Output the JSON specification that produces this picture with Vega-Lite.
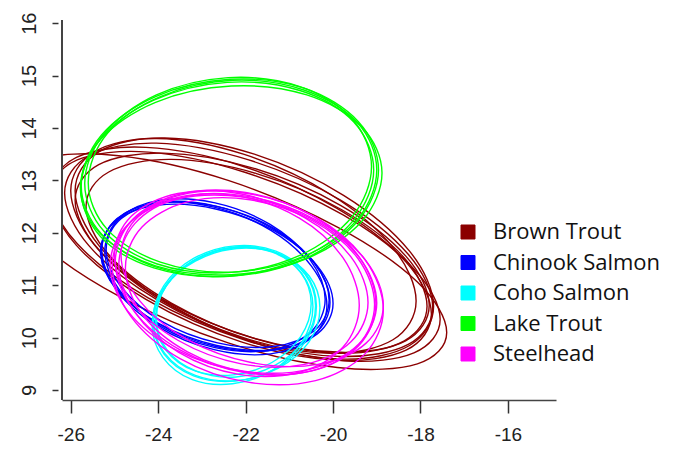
{
  "$schema": "https://vega.github.io/schema/vega-lite/v6.json",
  "autosize": "none",
  "width": 494,
  "height": 380,
  "padding": {"left": 62, "top": 20, "right": 126, "bottom": 54},
  "background": "white",
  "config": {
    "view": {"stroke": null},
    "axis": {"grid": false, "labelFont": "Liberation Sans", "labelColor": "#222", "tickColor": "#333", "tickWidth": 1.5, "domainColor": "#444", "domainWidth": 1.5}
  },
  "data": {"values": [
    {"s":"Brown Trout","e":"B1","o":0,"x":-17.72,"y":10.58},{"s":"Brown Trout","e":"B1","o":1,"x":-18.28,"y":11.59},{"s":"Brown Trout","e":"B1","o":2,"x":-19.82,"y":12.62},{"s":"Brown Trout","e":"B1","o":3,"x":-21.93,"y":13.39},{"s":"Brown Trout","e":"B1","o":4,"x":-24.04,"y":13.71},{"s":"Brown Trout","e":"B1","o":5,"x":-25.58,"y":13.47},{"s":"Brown Trout","e":"B1","o":6,"x":-26.14,"y":12.76},{"s":"Brown Trout","e":"B1","o":7,"x":-25.58,"y":11.75},{"s":"Brown Trout","e":"B1","o":8,"x":-24.04,"y":10.73},{"s":"Brown Trout","e":"B1","o":9,"x":-21.93,"y":9.95},{"s":"Brown Trout","e":"B1","o":10,"x":-19.82,"y":9.64},{"s":"Brown Trout","e":"B1","o":11,"x":-18.28,"y":9.87},
    {"s":"Brown Trout","e":"B2","o":0,"x":-17.80,"y":10.62},{"s":"Brown Trout","e":"B2","o":1,"x":-18.34,"y":11.56},{"s":"Brown Trout","e":"B2","o":2,"x":-19.82,"y":12.52},{"s":"Brown Trout","e":"B2","o":3,"x":-21.85,"y":13.24},{"s":"Brown Trout","e":"B2","o":4,"x":-23.88,"y":13.52},{"s":"Brown Trout","e":"B2","o":5,"x":-25.36,"y":13.30},{"s":"Brown Trout","e":"B2","o":6,"x":-25.90,"y":12.62},{"s":"Brown Trout","e":"B2","o":7,"x":-25.36,"y":11.68},{"s":"Brown Trout","e":"B2","o":8,"x":-23.88,"y":10.72},{"s":"Brown Trout","e":"B2","o":9,"x":-21.85,"y":10.00},{"s":"Brown Trout","e":"B2","o":10,"x":-19.82,"y":9.72},{"s":"Brown Trout","e":"B2","o":11,"x":-18.34,"y":9.94},
    {"s":"Brown Trout","e":"B3","o":0,"x":-18.10,"y":10.70},{"s":"Brown Trout","e":"B3","o":1,"x":-18.63,"y":11.72},{"s":"Brown Trout","e":"B3","o":2,"x":-20.07,"y":12.74},{"s":"Brown Trout","e":"B3","o":3,"x":-22.05,"y":13.50},{"s":"Brown Trout","e":"B3","o":4,"x":-24.03,"y":13.80},{"s":"Brown Trout","e":"B3","o":5,"x":-25.47,"y":13.54},{"s":"Brown Trout","e":"B3","o":6,"x":-26.00,"y":12.80},{"s":"Brown Trout","e":"B3","o":7,"x":-25.47,"y":11.78},{"s":"Brown Trout","e":"B3","o":8,"x":-24.03,"y":10.76},{"s":"Brown Trout","e":"B3","o":9,"x":-22.05,"y":10.00},{"s":"Brown Trout","e":"B3","o":10,"x":-20.07,"y":9.70},{"s":"Brown Trout","e":"B3","o":11,"x":-18.63,"y":9.96},
    {"s":"Brown Trout","e":"B4","o":0,"x":-17.85,"y":10.60},{"s":"Brown Trout","e":"B4","o":1,"x":-18.37,"y":11.52},{"s":"Brown Trout","e":"B4","o":2,"x":-19.80,"y":12.44},{"s":"Brown Trout","e":"B4","o":3,"x":-21.75,"y":13.13},{"s":"Brown Trout","e":"B4","o":4,"x":-23.70,"y":13.40},{"s":"Brown Trout","e":"B4","o":5,"x":-25.13,"y":13.16},{"s":"Brown Trout","e":"B4","o":6,"x":-25.65,"y":12.50},{"s":"Brown Trout","e":"B4","o":7,"x":-25.13,"y":11.58},{"s":"Brown Trout","e":"B4","o":8,"x":-23.70,"y":10.66},{"s":"Brown Trout","e":"B4","o":9,"x":-21.75,"y":9.97},{"s":"Brown Trout","e":"B4","o":10,"x":-19.80,"y":9.70},{"s":"Brown Trout","e":"B4","o":11,"x":-18.37,"y":9.94},
    {"s":"Brown Trout","e":"B5","o":0,"x":-17.75,"y":10.45},{"s":"Brown Trout","e":"B5","o":1,"x":-18.33,"y":11.44},{"s":"Brown Trout","e":"B5","o":2,"x":-19.92,"y":12.47},{"s":"Brown Trout","e":"B5","o":3,"x":-22.10,"y":13.28},{"s":"Brown Trout","e":"B5","o":4,"x":-24.28,"y":13.63},{"s":"Brown Trout","e":"B5","o":5,"x":-25.87,"y":13.44},{"s":"Brown Trout","e":"B5","o":6,"x":-26.45,"y":12.75},{"s":"Brown Trout","e":"B5","o":7,"x":-25.87,"y":11.76},{"s":"Brown Trout","e":"B5","o":8,"x":-24.28,"y":10.73},{"s":"Brown Trout","e":"B5","o":9,"x":-22.10,"y":9.92},{"s":"Brown Trout","e":"B5","o":10,"x":-19.92,"y":9.57},{"s":"Brown Trout","e":"B5","o":11,"x":-18.33,"y":9.76},
    {"s":"Brown Trout","e":"B6","o":0,"x":-17.40,"y":10.10},{"s":"Brown Trout","e":"B6","o":1,"x":-18.07,"y":11.06},{"s":"Brown Trout","e":"B6","o":2,"x":-19.90,"y":12.11},{"s":"Brown Trout","e":"B6","o":3,"x":-22.40,"y":13.00},{"s":"Brown Trout","e":"B6","o":4,"x":-24.90,"y":13.47},{"s":"Brown Trout","e":"B6","o":5,"x":-26.73,"y":13.40},{"s":"Brown Trout","e":"B6","o":6,"x":-27.40,"y":12.80},{"s":"Brown Trout","e":"B6","o":7,"x":-26.73,"y":11.84},{"s":"Brown Trout","e":"B6","o":8,"x":-24.90,"y":10.79},{"s":"Brown Trout","e":"B6","o":9,"x":-22.40,"y":9.90},{"s":"Brown Trout","e":"B6","o":10,"x":-19.90,"y":9.43},{"s":"Brown Trout","e":"B6","o":11,"x":-18.07,"y":9.50},
    {"s":"Brown Trout","e":"B7","o":0,"x":-17.70,"y":10.60},{"s":"Brown Trout","e":"B7","o":1,"x":-18.25,"y":11.65},{"s":"Brown Trout","e":"B7","o":2,"x":-19.75,"y":12.71},{"s":"Brown Trout","e":"B7","o":3,"x":-21.80,"y":13.50},{"s":"Brown Trout","e":"B7","o":4,"x":-23.85,"y":13.81},{"s":"Brown Trout","e":"B7","o":5,"x":-25.35,"y":13.55},{"s":"Brown Trout","e":"B7","o":6,"x":-25.90,"y":12.80},{"s":"Brown Trout","e":"B7","o":7,"x":-25.35,"y":11.75},{"s":"Brown Trout","e":"B7","o":8,"x":-23.85,"y":10.69},{"s":"Brown Trout","e":"B7","o":9,"x":-21.80,"y":9.90},{"s":"Brown Trout","e":"B7","o":10,"x":-19.75,"y":9.59},{"s":"Brown Trout","e":"B7","o":11,"x":-18.25,"y":9.85},
    {"s":"Brown Trout","e":"B8","o":0,"x":-17.55,"y":10.35},{"s":"Brown Trout","e":"B8","o":1,"x":-18.15,"y":11.31},{"s":"Brown Trout","e":"B8","o":2,"x":-19.77,"y":12.34},{"s":"Brown Trout","e":"B8","o":3,"x":-22.00,"y":13.15},{"s":"Brown Trout","e":"B8","o":4,"x":-24.23,"y":13.54},{"s":"Brown Trout","e":"B8","o":5,"x":-25.85,"y":13.39},{"s":"Brown Trout","e":"B8","o":6,"x":-26.45,"y":12.75},{"s":"Brown Trout","e":"B8","o":7,"x":-25.85,"y":11.79},{"s":"Brown Trout","e":"B8","o":8,"x":-24.23,"y":10.76},{"s":"Brown Trout","e":"B8","o":9,"x":-22.00,"y":9.95},{"s":"Brown Trout","e":"B8","o":10,"x":-19.77,"y":9.56},{"s":"Brown Trout","e":"B8","o":11,"x":-18.15,"y":9.71},
    {"s":"Chinook Salmon","e":"C1","o":0,"x":-20.07,"y":10.67},{"s":"Chinook Salmon","e":"C1","o":1,"x":-20.42,"y":11.41},{"s":"Chinook Salmon","e":"C1","o":2,"x":-21.38,"y":12.08},{"s":"Chinook Salmon","e":"C1","o":3,"x":-22.68,"y":12.51},{"s":"Chinook Salmon","e":"C1","o":4,"x":-23.99,"y":12.58},{"s":"Chinook Salmon","e":"C1","o":5,"x":-24.94,"y":12.27},{"s":"Chinook Salmon","e":"C1","o":6,"x":-25.29,"y":11.67},{"s":"Chinook Salmon","e":"C1","o":7,"x":-24.94,"y":10.93},{"s":"Chinook Salmon","e":"C1","o":8,"x":-23.99,"y":10.26},{"s":"Chinook Salmon","e":"C1","o":9,"x":-22.68,"y":9.83},{"s":"Chinook Salmon","e":"C1","o":10,"x":-21.38,"y":9.76},{"s":"Chinook Salmon","e":"C1","o":11,"x":-20.42,"y":10.07},
    {"s":"Chinook Salmon","e":"C2","o":0,"x":-20.09,"y":10.72},{"s":"Chinook Salmon","e":"C2","o":1,"x":-20.43,"y":11.43},{"s":"Chinook Salmon","e":"C2","o":2,"x":-21.36,"y":12.09},{"s":"Chinook Salmon","e":"C2","o":3,"x":-22.64,"y":12.50},{"s":"Chinook Salmon","e":"C2","o":4,"x":-23.92,"y":12.57},{"s":"Chinook Salmon","e":"C2","o":5,"x":-24.85,"y":12.27},{"s":"Chinook Salmon","e":"C2","o":6,"x":-25.19,"y":11.68},{"s":"Chinook Salmon","e":"C2","o":7,"x":-24.85,"y":10.97},{"s":"Chinook Salmon","e":"C2","o":8,"x":-23.92,"y":10.31},{"s":"Chinook Salmon","e":"C2","o":9,"x":-22.64,"y":9.90},{"s":"Chinook Salmon","e":"C2","o":10,"x":-21.36,"y":9.83},{"s":"Chinook Salmon","e":"C2","o":11,"x":-20.43,"y":10.13},
    {"s":"Chinook Salmon","e":"C3","o":0,"x":-20.14,"y":10.61},{"s":"Chinook Salmon","e":"C3","o":1,"x":-20.49,"y":11.36},{"s":"Chinook Salmon","e":"C3","o":2,"x":-21.43,"y":12.05},{"s":"Chinook Salmon","e":"C3","o":3,"x":-22.72,"y":12.49},{"s":"Chinook Salmon","e":"C3","o":4,"x":-24.01,"y":12.57},{"s":"Chinook Salmon","e":"C3","o":5,"x":-24.95,"y":12.26},{"s":"Chinook Salmon","e":"C3","o":6,"x":-25.30,"y":11.65},{"s":"Chinook Salmon","e":"C3","o":7,"x":-24.95,"y":10.90},{"s":"Chinook Salmon","e":"C3","o":8,"x":-24.01,"y":10.21},{"s":"Chinook Salmon","e":"C3","o":9,"x":-22.72,"y":9.77},{"s":"Chinook Salmon","e":"C3","o":10,"x":-21.43,"y":9.69},{"s":"Chinook Salmon","e":"C3","o":11,"x":-20.49,"y":10.00},
    {"s":"Chinook Salmon","e":"C4","o":0,"x":-20.00,"y":10.65},{"s":"Chinook Salmon","e":"C4","o":1,"x":-20.36,"y":11.37},{"s":"Chinook Salmon","e":"C4","o":2,"x":-21.33,"y":12.03},{"s":"Chinook Salmon","e":"C4","o":3,"x":-22.66,"y":12.45},{"s":"Chinook Salmon","e":"C4","o":4,"x":-23.99,"y":12.53},{"s":"Chinook Salmon","e":"C4","o":5,"x":-24.96,"y":12.23},{"s":"Chinook Salmon","e":"C4","o":6,"x":-25.32,"y":11.65},{"s":"Chinook Salmon","e":"C4","o":7,"x":-24.96,"y":10.93},{"s":"Chinook Salmon","e":"C4","o":8,"x":-23.99,"y":10.27},{"s":"Chinook Salmon","e":"C4","o":9,"x":-22.66,"y":9.85},{"s":"Chinook Salmon","e":"C4","o":10,"x":-21.33,"y":9.77},{"s":"Chinook Salmon","e":"C4","o":11,"x":-20.36,"y":10.07},
    {"s":"Chinook Salmon","e":"C5","o":0,"x":-20.18,"y":10.73},{"s":"Chinook Salmon","e":"C5","o":1,"x":-20.52,"y":11.48},{"s":"Chinook Salmon","e":"C5","o":2,"x":-21.44,"y":12.16},{"s":"Chinook Salmon","e":"C5","o":3,"x":-22.70,"y":12.57},{"s":"Chinook Salmon","e":"C5","o":4,"x":-23.96,"y":12.62},{"s":"Chinook Salmon","e":"C5","o":5,"x":-24.88,"y":12.28},{"s":"Chinook Salmon","e":"C5","o":6,"x":-25.22,"y":11.65},{"s":"Chinook Salmon","e":"C5","o":7,"x":-24.88,"y":10.90},{"s":"Chinook Salmon","e":"C5","o":8,"x":-23.96,"y":10.22},{"s":"Chinook Salmon","e":"C5","o":9,"x":-22.70,"y":9.81},{"s":"Chinook Salmon","e":"C5","o":10,"x":-21.44,"y":9.76},{"s":"Chinook Salmon","e":"C5","o":11,"x":-20.52,"y":10.10},
    {"s":"Coho Salmon","e":"K1","o":0,"x":-20.38,"y":10.60},{"s":"Coho Salmon","e":"K1","o":1,"x":-20.63,"y":11.23},{"s":"Coho Salmon","e":"K1","o":2,"x":-21.31,"y":11.65},{"s":"Coho Salmon","e":"K1","o":3,"x":-22.25,"y":11.75},{"s":"Coho Salmon","e":"K1","o":4,"x":-23.19,"y":11.51},{"s":"Coho Salmon","e":"K1","o":5,"x":-23.87,"y":10.99},{"s":"Coho Salmon","e":"K1","o":6,"x":-24.12,"y":10.32},{"s":"Coho Salmon","e":"K1","o":7,"x":-23.87,"y":9.69},{"s":"Coho Salmon","e":"K1","o":8,"x":-23.19,"y":9.27},{"s":"Coho Salmon","e":"K1","o":9,"x":-22.25,"y":9.17},{"s":"Coho Salmon","e":"K1","o":10,"x":-21.31,"y":9.41},{"s":"Coho Salmon","e":"K1","o":11,"x":-20.63,"y":9.93},
    {"s":"Coho Salmon","e":"K2","o":0,"x":-20.40,"y":10.61},{"s":"Coho Salmon","e":"K2","o":1,"x":-20.64,"y":11.21},{"s":"Coho Salmon","e":"K2","o":2,"x":-21.31,"y":11.62},{"s":"Coho Salmon","e":"K2","o":3,"x":-22.22,"y":11.73},{"s":"Coho Salmon","e":"K2","o":4,"x":-23.13,"y":11.50},{"s":"Coho Salmon","e":"K2","o":5,"x":-23.80,"y":11.01},{"s":"Coho Salmon","e":"K2","o":6,"x":-24.04,"y":10.37},{"s":"Coho Salmon","e":"K2","o":7,"x":-23.80,"y":9.77},{"s":"Coho Salmon","e":"K2","o":8,"x":-23.13,"y":9.36},{"s":"Coho Salmon","e":"K2","o":9,"x":-22.22,"y":9.25},{"s":"Coho Salmon","e":"K2","o":10,"x":-21.31,"y":9.48},{"s":"Coho Salmon","e":"K2","o":11,"x":-20.64,"y":9.97},
    {"s":"Coho Salmon","e":"K3","o":0,"x":-20.46,"y":10.59},{"s":"Coho Salmon","e":"K3","o":1,"x":-20.71,"y":11.22},{"s":"Coho Salmon","e":"K3","o":2,"x":-21.38,"y":11.64},{"s":"Coho Salmon","e":"K3","o":3,"x":-22.30,"y":11.72},{"s":"Coho Salmon","e":"K3","o":4,"x":-23.22,"y":11.46},{"s":"Coho Salmon","e":"K3","o":5,"x":-23.89,"y":10.92},{"s":"Coho Salmon","e":"K3","o":6,"x":-24.14,"y":10.25},{"s":"Coho Salmon","e":"K3","o":7,"x":-23.89,"y":9.62},{"s":"Coho Salmon","e":"K3","o":8,"x":-23.22,"y":9.20},{"s":"Coho Salmon","e":"K3","o":9,"x":-22.30,"y":9.12},{"s":"Coho Salmon","e":"K3","o":10,"x":-21.38,"y":9.38},{"s":"Coho Salmon","e":"K3","o":11,"x":-20.71,"y":9.92},
    {"s":"Coho Salmon","e":"K4","o":0,"x":-20.30,"y":10.57},{"s":"Coho Salmon","e":"K4","o":1,"x":-20.55,"y":11.18},{"s":"Coho Salmon","e":"K4","o":2,"x":-21.25,"y":11.60},{"s":"Coho Salmon","e":"K4","o":3,"x":-22.20,"y":11.70},{"s":"Coho Salmon","e":"K4","o":4,"x":-23.15,"y":11.46},{"s":"Coho Salmon","e":"K4","o":5,"x":-23.85,"y":10.96},{"s":"Coho Salmon","e":"K4","o":6,"x":-24.10,"y":10.31},{"s":"Coho Salmon","e":"K4","o":7,"x":-23.85,"y":9.70},{"s":"Coho Salmon","e":"K4","o":8,"x":-23.15,"y":9.28},{"s":"Coho Salmon","e":"K4","o":9,"x":-22.20,"y":9.18},{"s":"Coho Salmon","e":"K4","o":10,"x":-21.25,"y":9.42},{"s":"Coho Salmon","e":"K4","o":11,"x":-20.55,"y":9.92},
    {"s":"Coho Salmon","e":"K5","o":0,"x":-20.50,"y":10.65},{"s":"Coho Salmon","e":"K5","o":1,"x":-20.74,"y":11.24},{"s":"Coho Salmon","e":"K5","o":2,"x":-21.39,"y":11.63},{"s":"Coho Salmon","e":"K5","o":3,"x":-22.28,"y":11.71},{"s":"Coho Salmon","e":"K5","o":4,"x":-23.17,"y":11.47},{"s":"Coho Salmon","e":"K5","o":5,"x":-23.82,"y":10.98},{"s":"Coho Salmon","e":"K5","o":6,"x":-24.06,"y":10.35},{"s":"Coho Salmon","e":"K5","o":7,"x":-23.82,"y":9.76},{"s":"Coho Salmon","e":"K5","o":8,"x":-23.17,"y":9.37},{"s":"Coho Salmon","e":"K5","o":9,"x":-22.28,"y":9.29},{"s":"Coho Salmon","e":"K5","o":10,"x":-21.39,"y":9.53},{"s":"Coho Salmon","e":"K5","o":11,"x":-20.74,"y":10.02},
    {"s":"Lake Trout","e":"L1","o":0,"x":-18.96,"y":13.20},{"s":"Lake Trout","e":"L1","o":1,"x":-19.42,"y":14.12},{"s":"Lake Trout","e":"L1","o":2,"x":-20.66,"y":14.76},{"s":"Lake Trout","e":"L1","o":3,"x":-22.36,"y":14.93},{"s":"Lake Trout","e":"L1","o":4,"x":-24.06,"y":14.60},{"s":"Lake Trout","e":"L1","o":5,"x":-25.30,"y":13.86},{"s":"Lake Trout","e":"L1","o":6,"x":-25.76,"y":12.90},{"s":"Lake Trout","e":"L1","o":7,"x":-25.30,"y":11.98},{"s":"Lake Trout","e":"L1","o":8,"x":-24.06,"y":11.35},{"s":"Lake Trout","e":"L1","o":9,"x":-22.36,"y":11.17},{"s":"Lake Trout","e":"L1","o":10,"x":-20.66,"y":11.50},{"s":"Lake Trout","e":"L1","o":11,"x":-19.42,"y":12.24},
    {"s":"Lake Trout","e":"L2","o":0,"x":-19.00,"y":13.20},{"s":"Lake Trout","e":"L2","o":1,"x":-19.44,"y":14.10},{"s":"Lake Trout","e":"L2","o":2,"x":-20.65,"y":14.72},{"s":"Lake Trout","e":"L2","o":3,"x":-22.30,"y":14.91},{"s":"Lake Trout","e":"L2","o":4,"x":-23.95,"y":14.60},{"s":"Lake Trout","e":"L2","o":5,"x":-25.16,"y":13.90},{"s":"Lake Trout","e":"L2","o":6,"x":-25.60,"y":12.96},{"s":"Lake Trout","e":"L2","o":7,"x":-25.16,"y":12.06},{"s":"Lake Trout","e":"L2","o":8,"x":-23.95,"y":11.44},{"s":"Lake Trout","e":"L2","o":9,"x":-22.30,"y":11.25},{"s":"Lake Trout","e":"L2","o":10,"x":-20.65,"y":11.56},{"s":"Lake Trout","e":"L2","o":11,"x":-19.44,"y":12.26},
    {"s":"Lake Trout","e":"L3","o":0,"x":-19.07,"y":13.20},{"s":"Lake Trout","e":"L3","o":1,"x":-19.52,"y":14.11},{"s":"Lake Trout","e":"L3","o":2,"x":-20.74,"y":14.71},{"s":"Lake Trout","e":"L3","o":3,"x":-22.42,"y":14.87},{"s":"Lake Trout","e":"L3","o":4,"x":-24.10,"y":14.53},{"s":"Lake Trout","e":"L3","o":5,"x":-25.32,"y":13.79},{"s":"Lake Trout","e":"L3","o":6,"x":-25.77,"y":12.84},{"s":"Lake Trout","e":"L3","o":7,"x":-25.32,"y":11.93},{"s":"Lake Trout","e":"L3","o":8,"x":-24.10,"y":11.33},{"s":"Lake Trout","e":"L3","o":9,"x":-22.42,"y":11.17},{"s":"Lake Trout","e":"L3","o":10,"x":-20.74,"y":11.51},{"s":"Lake Trout","e":"L3","o":11,"x":-19.52,"y":12.25},
    {"s":"Lake Trout","e":"L4","o":0,"x":-18.88,"y":13.14},{"s":"Lake Trout","e":"L4","o":1,"x":-19.34,"y":14.02},{"s":"Lake Trout","e":"L4","o":2,"x":-20.60,"y":14.63},{"s":"Lake Trout","e":"L4","o":3,"x":-22.33,"y":14.80},{"s":"Lake Trout","e":"L4","o":4,"x":-24.06,"y":14.49},{"s":"Lake Trout","e":"L4","o":5,"x":-25.32,"y":13.78},{"s":"Lake Trout","e":"L4","o":6,"x":-25.78,"y":12.86},{"s":"Lake Trout","e":"L4","o":7,"x":-25.32,"y":11.98},{"s":"Lake Trout","e":"L4","o":8,"x":-24.06,"y":11.37},{"s":"Lake Trout","e":"L4","o":9,"x":-22.33,"y":11.20},{"s":"Lake Trout","e":"L4","o":10,"x":-20.60,"y":11.51},{"s":"Lake Trout","e":"L4","o":11,"x":-19.34,"y":12.22},
    {"s":"Lake Trout","e":"L5","o":0,"x":-19.12,"y":13.26},{"s":"Lake Trout","e":"L5","o":1,"x":-19.56,"y":14.17},{"s":"Lake Trout","e":"L5","o":2,"x":-20.76,"y":14.79},{"s":"Lake Trout","e":"L5","o":3,"x":-22.40,"y":14.96},{"s":"Lake Trout","e":"L5","o":4,"x":-24.04,"y":14.63},{"s":"Lake Trout","e":"L5","o":5,"x":-25.24,"y":13.89},{"s":"Lake Trout","e":"L5","o":6,"x":-25.68,"y":12.94},{"s":"Lake Trout","e":"L5","o":7,"x":-25.24,"y":12.03},{"s":"Lake Trout","e":"L5","o":8,"x":-24.04,"y":11.41},{"s":"Lake Trout","e":"L5","o":9,"x":-22.40,"y":11.24},{"s":"Lake Trout","e":"L5","o":10,"x":-20.76,"y":11.57},{"s":"Lake Trout","e":"L5","o":11,"x":-19.56,"y":12.31},
    {"s":"Steelhead","e":"S1","o":0,"x":-19.02,"y":10.65},{"s":"Steelhead","e":"S1","o":1,"x":-19.42,"y":11.56},{"s":"Steelhead","e":"S1","o":2,"x":-20.51,"y":12.34},{"s":"Steelhead","e":"S1","o":3,"x":-22.00,"y":12.77},{"s":"Steelhead","e":"S1","o":4,"x":-23.49,"y":12.74},{"s":"Steelhead","e":"S1","o":5,"x":-24.58,"y":12.26},{"s":"Steelhead","e":"S1","o":6,"x":-24.98,"y":11.45},{"s":"Steelhead","e":"S1","o":7,"x":-24.58,"y":10.54},{"s":"Steelhead","e":"S1","o":8,"x":-23.49,"y":9.76},{"s":"Steelhead","e":"S1","o":9,"x":-22.00,"y":9.33},{"s":"Steelhead","e":"S1","o":10,"x":-20.51,"y":9.36},{"s":"Steelhead","e":"S1","o":11,"x":-19.42,"y":9.84},
    {"s":"Steelhead","e":"S2","o":0,"x":-19.05,"y":10.63},{"s":"Steelhead","e":"S2","o":1,"x":-19.43,"y":11.51},{"s":"Steelhead","e":"S2","o":2,"x":-20.47,"y":12.23},{"s":"Steelhead","e":"S2","o":3,"x":-21.90,"y":12.63},{"s":"Steelhead","e":"S2","o":4,"x":-23.33,"y":12.59},{"s":"Steelhead","e":"S2","o":5,"x":-24.37,"y":12.11},{"s":"Steelhead","e":"S2","o":6,"x":-24.75,"y":11.33},{"s":"Steelhead","e":"S2","o":7,"x":-24.37,"y":10.45},{"s":"Steelhead","e":"S2","o":8,"x":-23.33,"y":9.73},{"s":"Steelhead","e":"S2","o":9,"x":-21.90,"y":9.33},{"s":"Steelhead","e":"S2","o":10,"x":-20.47,"y":9.37},{"s":"Steelhead","e":"S2","o":11,"x":-19.43,"y":9.85},
    {"s":"Steelhead","e":"S3","o":0,"x":-19.20,"y":10.67},{"s":"Steelhead","e":"S3","o":1,"x":-19.59,"y":11.54},{"s":"Steelhead","e":"S3","o":2,"x":-20.65,"y":12.29},{"s":"Steelhead","e":"S3","o":3,"x":-22.10,"y":12.74},{"s":"Steelhead","e":"S3","o":4,"x":-23.55,"y":12.75},{"s":"Steelhead","e":"S3","o":5,"x":-24.61,"y":12.32},{"s":"Steelhead","e":"S3","o":6,"x":-25.00,"y":11.57},{"s":"Steelhead","e":"S3","o":7,"x":-24.61,"y":10.70},{"s":"Steelhead","e":"S3","o":8,"x":-23.55,"y":9.95},{"s":"Steelhead","e":"S3","o":9,"x":-22.10,"y":9.50},{"s":"Steelhead","e":"S3","o":10,"x":-20.65,"y":9.49},{"s":"Steelhead","e":"S3","o":11,"x":-19.59,"y":9.92},
    {"s":"Steelhead","e":"S4","o":0,"x":-18.85,"y":10.53},{"s":"Steelhead","e":"S4","o":1,"x":-19.27,"y":11.49},{"s":"Steelhead","e":"S4","o":2,"x":-20.40,"y":12.30},{"s":"Steelhead","e":"S4","o":3,"x":-21.95,"y":12.75},{"s":"Steelhead","e":"S4","o":4,"x":-23.50,"y":12.72},{"s":"Steelhead","e":"S4","o":5,"x":-24.63,"y":12.21},{"s":"Steelhead","e":"S4","o":6,"x":-25.05,"y":11.37},{"s":"Steelhead","e":"S4","o":7,"x":-24.63,"y":10.41},{"s":"Steelhead","e":"S4","o":8,"x":-23.50,"y":9.60},{"s":"Steelhead","e":"S4","o":9,"x":-21.95,"y":9.15},{"s":"Steelhead","e":"S4","o":10,"x":-20.40,"y":9.18},{"s":"Steelhead","e":"S4","o":11,"x":-19.27,"y":9.69},
    {"s":"Steelhead","e":"S5","o":0,"x":-19.40,"y":10.62},{"s":"Steelhead","e":"S5","o":1,"x":-19.77,"y":11.52},{"s":"Steelhead","e":"S5","o":2,"x":-20.77,"y":12.28},{"s":"Steelhead","e":"S5","o":3,"x":-22.15,"y":12.70},{"s":"Steelhead","e":"S5","o":4,"x":-23.53,"y":12.66},{"s":"Steelhead","e":"S5","o":5,"x":-24.53,"y":12.18},{"s":"Steelhead","e":"S5","o":6,"x":-24.90,"y":11.38},{"s":"Steelhead","e":"S5","o":7,"x":-24.53,"y":10.48},{"s":"Steelhead","e":"S5","o":8,"x":-23.53,"y":9.72},{"s":"Steelhead","e":"S5","o":9,"x":-22.15,"y":9.30},{"s":"Steelhead","e":"S5","o":10,"x":-20.77,"y":9.34},{"s":"Steelhead","e":"S5","o":11,"x":-19.77,"y":9.82},
    {"s":"Steelhead","e":"S6","o":0,"x":-18.85,"y":10.62},{"s":"Steelhead","e":"S6","o":1,"x":-19.25,"y":11.47},{"s":"Steelhead","e":"S6","o":2,"x":-20.35,"y":12.23},{"s":"Steelhead","e":"S6","o":3,"x":-21.85,"y":12.68},{"s":"Steelhead","e":"S6","o":4,"x":-23.35,"y":12.71},{"s":"Steelhead","e":"S6","o":5,"x":-24.45,"y":12.31},{"s":"Steelhead","e":"S6","o":6,"x":-24.85,"y":11.58},{"s":"Steelhead","e":"S6","o":7,"x":-24.45,"y":10.73},{"s":"Steelhead","e":"S6","o":8,"x":-23.35,"y":9.97},{"s":"Steelhead","e":"S6","o":9,"x":-21.85,"y":9.52},{"s":"Steelhead","e":"S6","o":10,"x":-20.35,"y":9.49},{"s":"Steelhead","e":"S6","o":11,"x":-19.25,"y":9.89},
    {"s":"Steelhead","e":"S7","o":0,"x":-19.00,"y":10.66},{"s":"Steelhead","e":"S7","o":1,"x":-19.41,"y":11.54},{"s":"Steelhead","e":"S7","o":2,"x":-20.52,"y":12.28},{"s":"Steelhead","e":"S7","o":3,"x":-22.05,"y":12.68},{"s":"Steelhead","e":"S7","o":4,"x":-23.58,"y":12.64},{"s":"Steelhead","e":"S7","o":5,"x":-24.69,"y":12.16},{"s":"Steelhead","e":"S7","o":6,"x":-25.10,"y":11.38},{"s":"Steelhead","e":"S7","o":7,"x":-24.69,"y":10.50},{"s":"Steelhead","e":"S7","o":8,"x":-23.58,"y":9.76},{"s":"Steelhead","e":"S7","o":9,"x":-22.05,"y":9.36},{"s":"Steelhead","e":"S7","o":10,"x":-20.52,"y":9.40},{"s":"Steelhead","e":"S7","o":11,"x":-19.41,"y":9.88}
  ]},
  "layer": [
    {
      "mark": {"type": "line", "interpolate": "cardinal-closed", "strokeWidth": 1.4, "clip": true},
      "encoding": {
        "x": {"field": "x", "type": "quantitative", "scale": {"domain": [-26.2, -14.9], "nice": false, "zero": false},
          "axis": {"title": null, "values": [-26, -24, -22, -20, -18, -16], "labelExpr": "toString(datum.value)", "labelFontSize": 19, "tickSize": 13, "labelPadding": 12}},
        "y": {"field": "y", "type": "quantitative", "scale": {"domain": [8.81, 16.06], "nice": false, "zero": false},
          "axis": {"title": null, "values": [9, 10, 11, 12, 13, 14, 15, 16], "labelFontSize": 20, "domain": false, "offset": 4, "tickSize": 6, "labelAngle": -90, "labelAlign": "center", "labelBaseline": "alphabetic", "labelPadding": 17}},
        "color": {"field": "s", "type": "nominal",
          "scale": {"domain": ["Brown Trout", "Chinook Salmon", "Coho Salmon", "Lake Trout", "Steelhead"], "range": ["#8B0000", "#0000FF", "#00FFFF", "#00FF00", "#FF00FF"]},
          "legend": {"title": null, "orient": "none", "legendX": 395, "legendY": 201, "padding": 0, "symbolType": "square", "symbolSize": 196, "symbolStrokeWidth": 1, "labelFont": "Open Sans", "labelFontSize": 22, "labelColor": "#111", "labelOffset": 14, "rowPadding": 8.5, "labelLimit": 300,
            "encode": {"symbols": {"update": {"fill": {"scale": "color", "field": "value"}, "stroke": {"value": "#000"}, "strokeWidth": {"value": 1}, "opacity": {"value": 1}}}}}},
        "detail": {"field": "e"},
        "order": {"field": "o", "type": "quantitative"}
      }
    },
    {
      "mark": {"type": "rule", "color": "#444", "strokeWidth": 1.5},
      "encoding": {"x": {"datum": -26.2}}
    }
  ]
}
